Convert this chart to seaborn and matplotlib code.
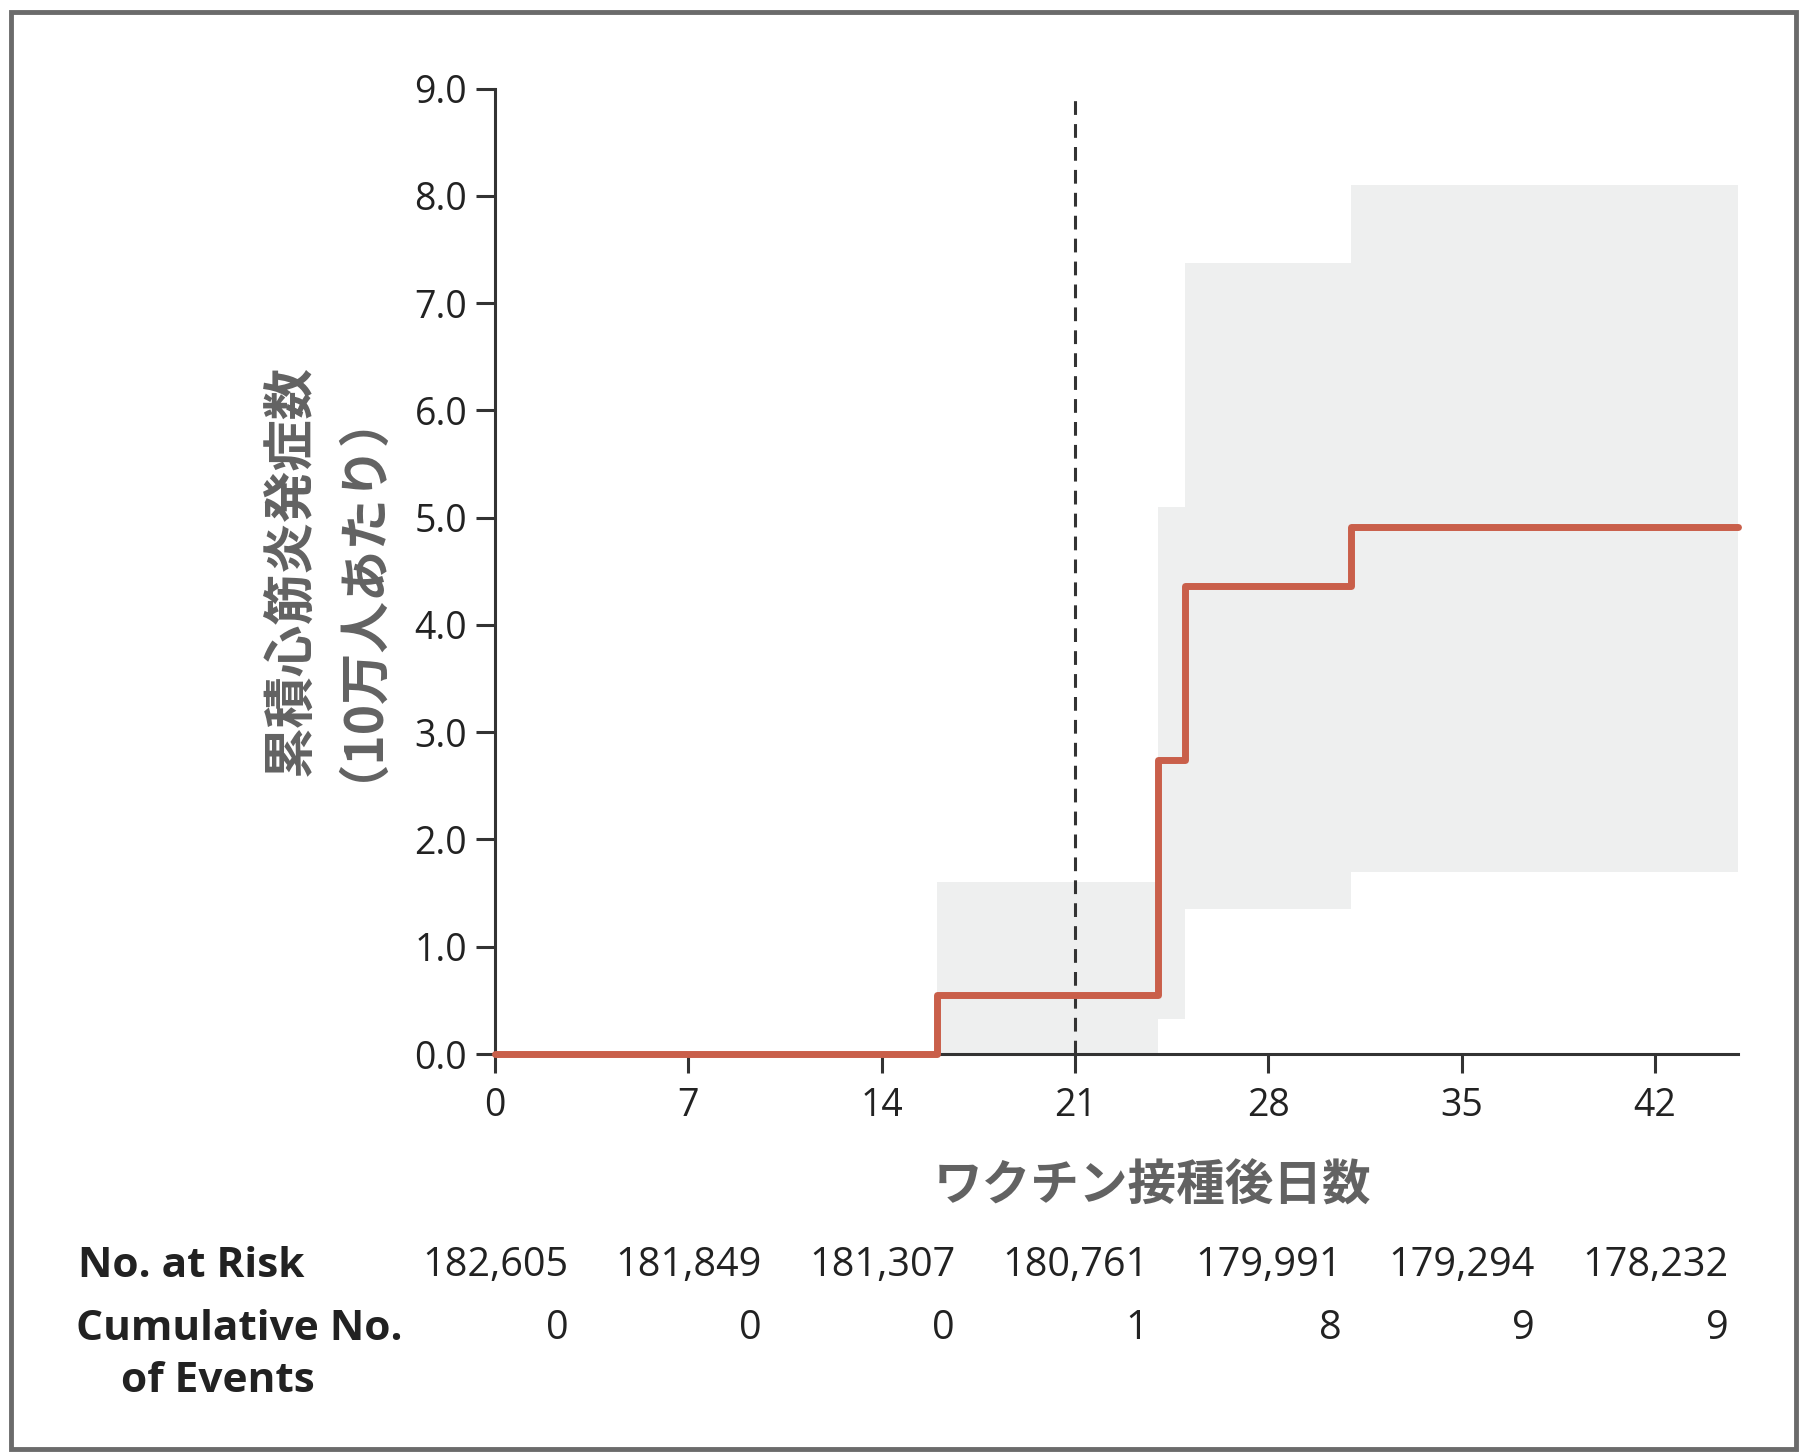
import matplotlib
matplotlib.use("Agg")
import matplotlib.pyplot as plt
import seaborn as sns
import pandas as pd
from matplotlib.patches import Rectangle

# step curve (cumulative cases per 100,000)
days = [0, 16, 24, 25, 31, 45]
cum_rate = [0.0, 0.55, 2.74, 4.36, 4.91, 4.91]

# 95% CI band
ci_days = [16, 24, 25, 31, 45]
ci_low = [0.0, 0.33, 1.35, 1.70, 1.70]
ci_high = [1.60, 5.10, 7.37, 8.10, 8.10]

dose2_day = 21

xticks = [0, 7, 14, 21, 28, 35, 42]
yticks = [0, 1, 2, 3, 4, 5, 6, 7, 8, 9]
at_risk = ["182,605", "181,849", "181,307", "180,761", "179,991", "179,294", "178,232"]
cum_events = ["0", "0", "0", "1", "8", "9", "9"]

sns.set_theme(style="ticks")
plt.rcParams['font.family'] = ['Open Sans', 'Noto Sans CJK JP', 'DejaVu Sans']

ink = "#222222"
gray_txt = "#626262"
jp = ['Noto Sans CJK JP', 'DejaVu Sans']

fig = plt.figure(figsize=(18.01, 14.52), dpi=100)
ax = fig.add_axes([0.2748, 0.2741, 0.6902, 0.6649])

ax.fill_between(ci_days, ci_low, ci_high, step="post", color="#eeefef", lw=0, zorder=1)

df = pd.DataFrame({"day": days, "rate": cum_rate})
sns.lineplot(data=df, x="day", y="rate", ax=ax, estimator=None, drawstyle="steps-post",
             color="#c95f4a", lw=5, zorder=4, clip_on=False)

ax.axvline(dose2_day, ymin=0, ymax=0.994, color="#333333", lw=2.2, ls=(0, (4.5, 3)), zorder=3)

ax.set_xlim(0, 45)
ax.set_ylim(0, 9)
ax.set_xticks(xticks)
ax.set_yticks(yticks)
ax.set_yticklabels([f"{v:.1f}" for v in yticks])
ax.set_xlabel("")
ax.set_ylabel("")

for s in ["top", "right"]:
    ax.spines[s].set_visible(False)
for s in ["left", "bottom"]:
    ax.spines[s].set_linewidth(2.2)
    ax.spines[s].set_color("#333333")
ax.tick_params(axis="both", direction="out", length=14, width=2.2, color="#333333",
               labelsize=27, labelcolor=ink)
ax.tick_params(axis="x", pad=10)
ax.tick_params(axis="y", pad=6)

# axis titles
fig.text(0.640, 0.183, "ワクチン接種後日数", family=jp, fontsize=35, fontweight="bold",
         color=gray_txt, ha="center", va="center")
fig.text(0.1735, 0.607, "累積心筋炎発症数\n（10万人あたり）", family=jp, fontsize=37,
         fontweight="bold", color=gray_txt, ha="center", va="center", rotation=90,
         multialignment="center", linespacing=0.78)

# risk table
trans = matplotlib.transforms.blended_transform_factory(ax.transData, fig.transFigure)
for d, r, c in zip(xticks, at_risk, cum_events):
    ax.text(d + 2.66, 0.128, r, transform=trans, ha="right", va="center", fontsize=28.5, color=ink)
    ax.text(d + 2.66, 0.0847, c, transform=trans, ha="right", va="center", fontsize=28.5, color=ink)

fig.text(0.0433, 0.128, "No. at Risk", fontsize=30.5, fontweight="bold", color=ink, ha="left", va="center")
fig.text(0.042, 0.0847, "Cumulative No.", fontsize=30.5, fontweight="bold", color=ink, ha="left", va="center")
fig.text(0.121, 0.0484, "of Events", fontsize=30.5, fontweight="bold", color=ink, ha="center", va="center")

# outer frame
fig.patches.append(Rectangle((0.006, 0.002), 0.991, 0.990, transform=fig.transFigure,
                             fill=False, edgecolor="#6b6b6b", lw=3.5))

fig.savefig("out.png", dpi=100)
